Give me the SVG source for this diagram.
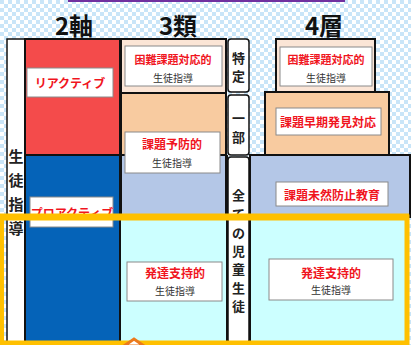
<svg xmlns="http://www.w3.org/2000/svg" width="411" height="345" viewBox="0 0 411 345">
<defs>
<pattern id="chk" width="8" height="8" patternUnits="userSpaceOnUse">
<rect width="8" height="8" fill="#ffffff"/>
<rect width="4" height="4" fill="#c9e5f8"/>
<rect x="4" y="4" width="4" height="4" fill="#c9e5f8"/>
</pattern>
<style>
.blk{stroke:#111;stroke-width:2}
.lbl{fill:#fff;stroke:#8a8a8a;stroke-width:1}
.red{font-family:"Noto Sans CJK JP",sans-serif;font-weight:bold;fill:#f0151e;font-size:12px;text-anchor:middle;dominant-baseline:central}
.sub{font-family:"Noto Sans CJK JP",sans-serif;fill:#333;font-size:10px;text-anchor:middle;dominant-baseline:central}
.ttl{font-family:"Noto Sans CJK JP",sans-serif;font-weight:bold;fill:#111;font-size:24px;text-anchor:middle;dominant-baseline:central}
.vt{font-family:"Noto Sans CJK JP",sans-serif;font-weight:bold;fill:#222;font-size:13px;text-anchor:middle;dominant-baseline:central}
.vl{font-family:"Noto Sans CJK JP",sans-serif;font-weight:bold;fill:#222;font-size:15px;text-anchor:middle;dominant-baseline:central}
.col{fill:#fff;stroke:#111;stroke-width:1.5}
</style>
</defs>
<rect width="411" height="345" fill="url(#chk)"/>
<line x1="68" y1="1" x2="345" y2="1" stroke="#7030a0" stroke-width="2"/>

<g id="titles">
<text class="ttl" x="74" y="24">2軸</text>
<text class="ttl" x="178" y="24">3類</text>
<text class="ttl" x="324" y="24">4層</text>
</g>

<g id="left-column">
<rect x="7" y="39" width="18" height="310" class="col"/>
<text class="vl" x="16" y="155">生</text>
<text class="vl" x="16" y="179">徒</text>
<text class="vl" x="16" y="203">指</text>
<text class="vl" x="16" y="227">導</text>
</g>

<g id="axis-reactive">
<rect x="25" y="39" width="95" height="116" fill="#f44b4b" class="blk"/>
<rect x="27" y="68" width="86" height="29" class="lbl"/>
<text class="red" x="70" y="82">リアクティブ</text>
</g>
<g id="axis-proactive">
<rect x="25" y="155" width="95" height="194" fill="#0563b8" class="blk"/>
<rect x="30" y="197" width="83" height="30" class="lbl"/>
<text class="red" x="72" y="212">プロアクティブ</text>
</g>

<g id="type-difficult">
<rect x="121" y="39" width="105" height="54" fill="#fbe5d6" class="blk"/>
<rect x="125" y="46" width="97" height="40" class="lbl"/>
<text class="red" x="173" y="59" style="font-size:11px">困難課題対応的</text>
<text class="sub" x="173" y="77">生徒指導</text>
</g>
<g id="type-preventive">
<rect x="121" y="93" width="105" height="62" fill="#f8cba0" class="blk"/>
<rect x="121" y="155" width="105" height="62" fill="#b4c7e7" class="blk"/>
<rect x="125" y="132" width="95" height="41" class="lbl"/>
<text class="red" x="172" y="143">課題予防的</text>
<text class="sub" x="172" y="162">生徒指導</text>
</g>
<g id="type-developmental">
<rect x="121" y="217" width="107" height="128" fill="#ccffff"/>
<line x1="227" y1="155" x2="227" y2="345" stroke="#111" stroke-width="2"/>
<rect x="127" y="262" width="95" height="39" class="lbl"/>
<text class="red" x="175" y="272">発達支持的</text>
<text class="sub" x="175" y="290">生徒指導</text>
</g>

<g id="target-specific">
<rect x="228" y="39" width="21" height="53" rx="3" class="col"/>
<text class="vt" x="238.5" y="57">特</text>
<text class="vt" x="238.5" y="75">定</text>
</g>
<g id="target-some">
<rect x="228" y="95" width="21" height="60" rx="3" class="col"/>
<text class="vt" x="238.5" y="117">一</text>
<text class="vt" x="238.5" y="136">部</text>
</g>

<g id="layer-difficult">
<rect x="276" y="39" width="99" height="53" fill="#fbe5d6" class="blk"/>
<rect x="280" y="47" width="92" height="39" class="lbl"/>
<text class="red" x="326" y="59" style="font-size:11px">困難課題対応的</text>
<text class="sub" x="326" y="77">生徒指導</text>
</g>
<g id="layer-early">
<rect x="265" y="92" width="124" height="63" fill="#f8cba0" class="blk"/>
<rect x="276" y="108" width="105" height="27" class="lbl"/>
<text class="red" x="328" y="121">課題早期発見対応</text>
</g>
<g id="layer-prevention">
<rect x="250" y="155" width="160" height="62" fill="#b4c7e7" class="blk"/>
<rect x="276" y="182" width="112" height="24" class="lbl"/>
<text class="red" x="332" y="194">課題未然防止教育</text>
</g>
<g id="layer-developmental">
<rect x="250" y="217" width="157" height="128" fill="#ccffff"/>
<line x1="250" y1="217" x2="250" y2="345" stroke="#111" stroke-width="2"/>
<rect x="269" y="259" width="124" height="41" class="lbl"/>
<text class="red" x="331" y="272">発達支持的</text>
<text class="sub" x="331" y="289">生徒指導</text>
</g>

<g id="target-all">
<rect x="228" y="157" width="21" height="186" rx="3" class="col"/>
<text class="vt" x="238.5" y="194">全</text>
<text class="vt" x="238.5" y="213">て</text>
<text class="vt" x="238.5" y="232">の</text>
<text class="vt" x="238.5" y="250">児</text>
<text class="vt" x="238.5" y="268">童</text>
<text class="vt" x="238.5" y="287">生</text>
<text class="vt" x="238.5" y="305">徒</text>
</g>

<g id="connectors">
<rect x="1.5" y="217" width="405.5" height="126" fill="none" stroke="#ffc000" stroke-width="5"/>
<line x1="0" y1="217" x2="409" y2="217" stroke="#ffc000" stroke-width="7"/>
<polygon points="124,346 134,339 144,346" fill="#fff" stroke="#ec7a1c" stroke-width="3"/>
</g>
</svg>
